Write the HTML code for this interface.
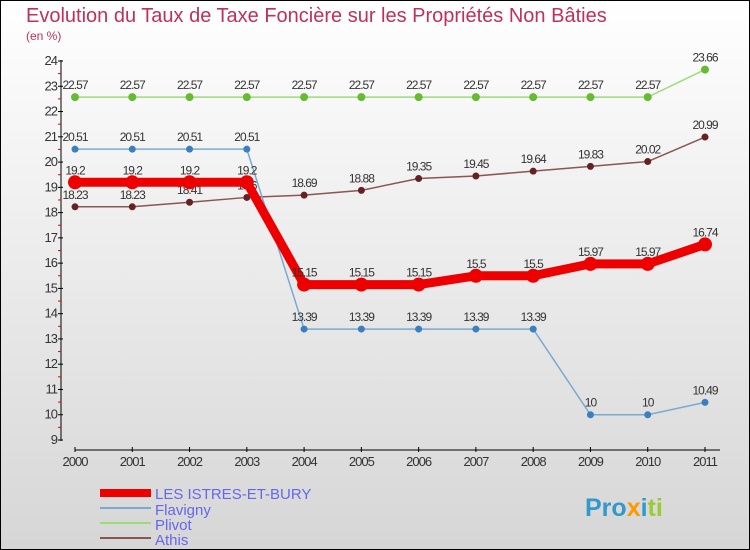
<!DOCTYPE html>
<html><head><meta charset="utf-8"><style>
body{margin:0}
svg{display:block;font-family:"Liberation Sans",sans-serif}
</style></head><body>
<svg id="c" width="750" height="550" viewBox="0 0 750 550">
<defs><linearGradient id="bg" x1="0" y1="0" x2="0" y2="1"><stop offset="0" stop-color="#ffffff"/><stop offset="1" stop-color="#d6d6d6"/></linearGradient></defs>
<rect x="0.5" y="0.5" width="749" height="549" fill="url(#bg)" stroke="#000"/>
<text x="26" y="22" font-size="20" fill="#c0305a">Evolution du Taux de Taxe Foncière sur les Propriétés Non Bâties</text>
<text x="26" y="40" font-size="12" fill="#c0305a">(en %)</text>
<g id="axes"></g>
<g id="series"></g>
<g>
<rect x="100" y="489" width="51" height="8" fill="#e00"/>
<text x="155" y="499" font-size="15" fill="#6666ee">LES ISTRES-ET-BURY</text>
<rect x="100" y="507" width="51" height="2" fill="#7aaad0"/>
<text x="155" y="515" font-size="15" fill="#6666ee">Flavigny</text>
<rect x="100" y="522" width="51" height="2" fill="#99dd77"/>
<text x="155" y="530" font-size="15" fill="#6666ee">Plivot</text>
<rect x="100" y="537" width="51" height="2" fill="#8a5555"/>
<text x="155" y="545" font-size="15" fill="#6666ee">Athis</text>
</g>
<text x="585" y="516" font-size="25" font-weight="bold" fill="#3399cc">Pro<tspan fill="#ff9900">x</tspan>i<tspan fill="#99cc33">ti</tspan></text>
</svg>
<script>
const years=[2000,2001,2002,2003,2004,2005,2006,2007,2008,2009,2010,2011];
const yTicks=[9,10,11,12,13,14,15,16,17,18,19,20,21,22,23,24];
const istres=[19.2,19.2,19.2,19.2,15.15,15.15,15.15,15.5,15.5,15.97,15.97,16.74];
const flavigny=[20.51,20.51,20.51,20.51,13.39,13.39,13.39,13.39,13.39,10,10,10.49];
const plivot=[22.57,22.57,22.57,22.57,22.57,22.57,22.57,22.57,22.57,22.57,22.57,23.66];
const athis=[18.23,18.23,18.41,18.6,18.69,18.88,19.35,19.45,19.64,19.83,20.02,20.99];
const NS="http://www.w3.org/2000/svg";
const X=i=>75+i*(705-75)/(years.length-1);
const Y=v=>440-(v-9)*(440-61)/15;
function mk(tag,attrs,parent){const e=document.createElementNS(NS,tag);for(const k in attrs)e.setAttribute(k,attrs[k]);parent.appendChild(e);return e;}
const ax=document.getElementById('axes');
let l=mk('line',{x1:61,y1:60,x2:61,y2:441,stroke:'#000'},ax);


l=mk('line',{x1:75,y1:450,x2:720,y2:450,stroke:'#000'},ax);


yTicks.forEach(v=>{
 mk('line',{x1:58,y1:Y(v),x2:63,y2:Y(v),stroke:'#000'},ax);
 if(v<24)mk('line',{x1:58,y1:Y(v+0.5),x2:61,y2:Y(v+0.5),stroke:'#e00'},ax);
 const t=mk('text',{x:57,y:Y(v)+4,'font-size':13,'text-anchor':'end',fill:'#333','letter-spacing':'-1'},ax);
 t.textContent=v;
 
 
});
years.forEach((yr,i)=>{
 mk('line',{x1:X(i),y1:447,x2:X(i),y2:452,stroke:'#000'},ax);
 const t=mk('text',{x:X(i),y:466,'font-size':13,'text-anchor':'middle',fill:'#333','letter-spacing':'-1'},ax);
 t.textContent=yr;
 
 
});
const sg=document.getElementById('series');
function draw(name,vals,color,dot,w,r){
 const g=mk('g',{},sg);
 
 
 const p=mk('polyline',{points:vals.map((v,i)=>X(i)+','+Y(v)).join(' '),fill:'none',stroke:color,'stroke-width':w,'stroke-linejoin':'round'},g);
 
 
 vals.forEach((v,i)=>{
  const c=mk('circle',{cx:X(i),cy:Y(v),r:r,fill:dot},g);
  
  
  const t=mk('text',{x:X(i),y:Y(v)-8,'font-size':12,'text-anchor':'middle',fill:'#333','letter-spacing':'-1'},g);
  t.textContent=v;
  
  
 });
}
draw('plivot',plivot,'#99dd77','#66bb33',1.5,4);
draw('athis',athis,'#8a5555','#662222',1.5,3.5);
draw('flavigny',flavigny,'#7aaad0','#3a80c0',1.5,3.5);
draw('istres',istres,'#ee0000','#ee0000',9,7);
</script>
</body></html>
